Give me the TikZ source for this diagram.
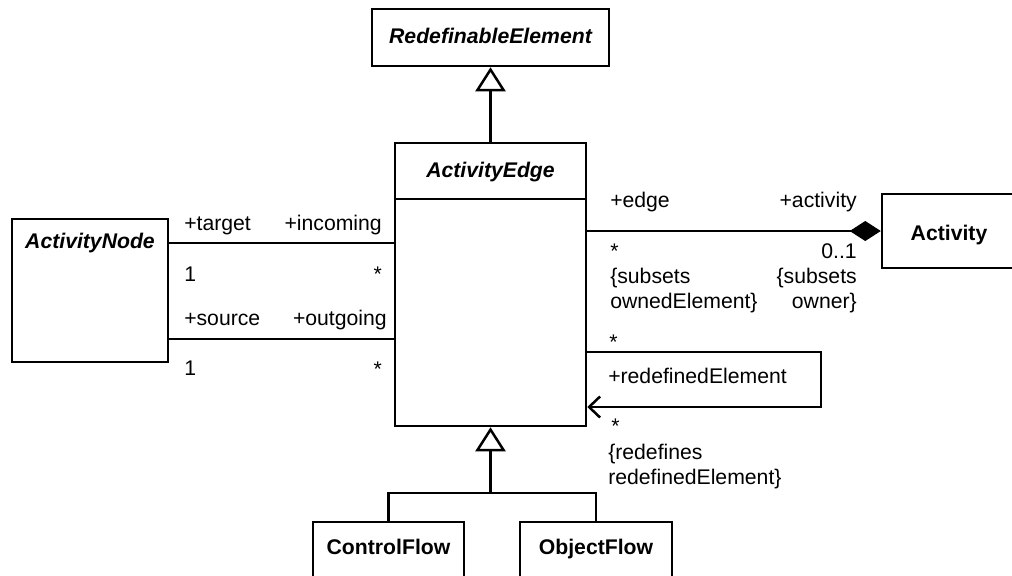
\documentclass[tikz,border=0pt]{standalone}
\usepackage{fontspec}
\setmainfont{Liberation Sans}
\usetikzlibrary{arrows.meta}
\begin{document}
\begin{tikzpicture}[x=0.5pt,y=-0.5pt,
  line width=1.25pt,
  every node/.style={font=\fontsize{10.6}{12}\selectfont},
  box/.style={draw,line width=1.25pt,minimum width=#1,inner sep=0pt,fill=white},
  lbl/.style={inner sep=0pt},
  lw/.style={lbl,anchor=base west},
  le/.style={lbl,anchor=base east},
  nm/.style={inner sep=0pt,anchor=base,font=\fontsize{10.6}{12}\selectfont\bfseries},
  nmi/.style={inner sep=0pt,anchor=base,font=\fontsize{10.6}{12}\selectfont\bfseries\itshape},
  gen/.style={-{Triangle[length=12pt,width=15pt,fill=white,line width=1.25pt]}},
  comp/.style={-{Diamond[length=15.5pt,width=10pt,line width=0.5pt]}},
  nav/.style={-{Straight Barb[length=5.5pt,width=10.5pt,line width=1.25pt]}}
]
\useasboundingbox (0,0) rectangle (1012,575);
\clip (0,0) rectangle (1012,575);
% boxes
\node[box=118.5pt,minimum height=28.5pt] (RE) at (490.5,37.5) {};
\node[box=95.5pt,minimum height=141.5pt] (AE) at (490.5,284.5) {};
\node[box=78pt,minimum height=71.5pt] (AN) at (90,290.5) {};
\node[box=70pt,minimum height=37pt] (Act) at (952,231) {};
\node[box=75.5pt,minimum height=40pt] (CF) at (388.5,562) {};
\node[box=76pt,minimum height=40pt] (OF) at (596,562) {};
\draw (AE.west |- 0,199) -- (AE.east |- 0,199);
% names
\node[nmi] (REn) at (490.5,43) {RedefinableElement};
\node[nmi] (AEn) at (490.5,177) {ActivityEdge};
\node[nmi] (ANn) at (90,248) {ActivityNode};
\node[nm] (Actn) at (949,240) {Activity};
\node[nm] (CFn) at (388.5,554) {ControlFlow};
\node[nm] (OFn) at (596,554) {ObjectFlow};
% generalizations
\draw[gen] (AE.north) -- (RE.south);
\coordinate (bj) at (490.5,493);
\draw (CF.north) |- (bj) -| (OF.north);
\draw[gen] (bj) -- (AE.south);
% associations
\draw (AN.east |- 0,243) -- (AE.west |- 0,243);
\draw (AN.east |- 0,339) -- (AE.west |- 0,339);
\draw[comp] (AE.east |- Act.west) -- (Act.west);
\coordinate (sr) at (821,380);
\draw[nav] (AE.east |- 0,352) -| (sr) |- (AE.east |- 0,407);
% labels left
\node[lw] (l1) at (183,230) {+target};
\node[le] (l2) at (383,230) {+incoming};
\node[lw] (l3) at (183,281) {1};
\node[le] (l4) at (383,281) {*};
\node[lw] (l5) at (183,325) {+source};
\node[le] (l6) at (388,325) {+outgoing};
\node[lw] (l7) at (183,375) {1};
\node[le] (l8) at (383,376) {*};
% labels right
\node[lw] (r1) at (609,207) {+edge};
\node[le] (r2) at (858,207) {+activity};
\node[lw] (r3) at (609,258) {*};
\node[le] (r4) at (858,258) {0..1};
\node[lw] (r5) at (609,283) {\{subsets};
\node[lw] (r6) at (609,308) {ownedElement\}};
\node[le] (r7) at (858,283) {\{subsets};
\node[le] (r8) at (858,308) {owner\}};
% self association labels
\node[lw] (s1) at (608,349) {*};
\node[lw] (s2) at (607,383) {+redefinedElement};
\node[lw] (s3) at (610,433) {*};
\node[lw] (s4) at (607,459) {\{redefines};
\node[lw] (s5) at (607,484) {redefinedElement\}};
\end{tikzpicture}
\end{document}
